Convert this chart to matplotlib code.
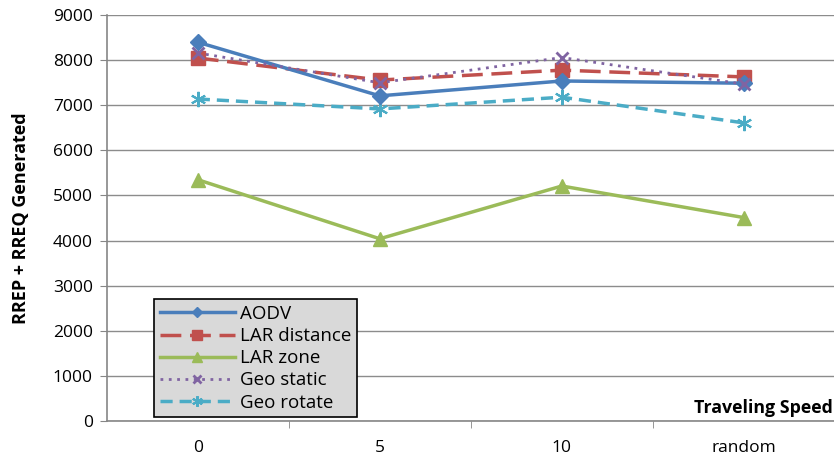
import numpy as np
from matplotlib import pyplot as plt

# data
speeds = ["0", "5", "10", "random"]
aodv = [8400, 7210, 7540, 7490]
lar_distance = [8050, 7560, 7780, 7630]
lar_zone = [5350, 4040, 5210, 4510]
geo_static = [8160, 7500, 8060, 7470]
geo_rotate = [7140, 6920, 7180, 6610]

plt.rcParams['font.family'] = ['Open Sans', 'DejaVu Sans']

fig = plt.figure(figsize=(8.34, 4.59), dpi=100)
ax = fig.add_axes([0.128, 0.083, 0.873, 0.884])

x = np.arange(len(speeds))
ax.plot(x, aodv, color='#4A7EBB', lw=2.5, marker='D', ms=8, label='AODV', zorder=5)
ax.plot(x, lar_distance, color='#C0504D', lw=2.5, ls=(0, (6, 2.5)), marker='s', ms=10,
        label='LAR distance', zorder=4)
ax.plot(x, lar_zone, color='#9BBB59', lw=2.5, marker='^', ms=10, label='LAR zone', zorder=4)
ax.plot(x, geo_static, color='#8064A2', lw=2, ls=(0, (1, 2)), marker='x', ms=9, mew=2,
        label='Geo static', zorder=6)
ax.plot(x, geo_rotate, color='#4BACC6', lw=2.5, ls=(0, (3.5, 2)), marker=(6, 2, 0), ms=11,
        mew=1.5, label='Geo rotate', zorder=3)

ax.set_xlim(-0.5, 3.5)
ax.set_ylim(0, 9000)
ax.set_yticks(np.arange(0, 9001, 1000))
ax.set_xticks(x)
ax.set_xticklabels(speeds)
ax.set_xticks(np.arange(0.5, 3.5, 1.0), minor=True)
ax.tick_params(axis='x', which='major', length=0, pad=14, labelsize=12.5)
ax.tick_params(axis='x', which='minor', length=5, color='#868686', direction='out')
ax.tick_params(axis='y', length=5, color='#868686', labelsize=12.5, pad=5)

ax.grid(axis='y', color='#8c8c8c', lw=1)
ax.set_axisbelow(True)
for s in ['top', 'right']:
    ax.spines[s].set_visible(False)
ax.spines['left'].set_color('#868686')
ax.spines['bottom'].set_color('#868686')
ax.spines['left'].set_linewidth(1.2)
ax.spines['bottom'].set_linewidth(1.2)

ax.set_ylabel('RREP + RREQ Generated', fontsize=13, fontweight='bold')
ax.yaxis.set_label_coords(-0.105, 0.5)
ax.text(0.997, 0.01, 'Traveling Speed', transform=ax.transAxes, ha='right', va='bottom',
        fontsize=12.8, fontweight='bold')

leg = ax.legend(loc='lower left', bbox_to_anchor=(0.06, 0.0), fontsize=13.5, frameon=True,
                fancybox=False, borderpad=0.3, labelspacing=0.22, handlelength=4.0,
                handletextpad=0.3, borderaxespad=0.2, markerscale=0.7)
leg.get_frame().set_facecolor('#d9d9d9')
leg.get_frame().set_edgecolor('black')
leg.get_frame().set_alpha(1)
leg.get_frame().set_linewidth(1.2)

fig.savefig('out.png', dpi=100)
